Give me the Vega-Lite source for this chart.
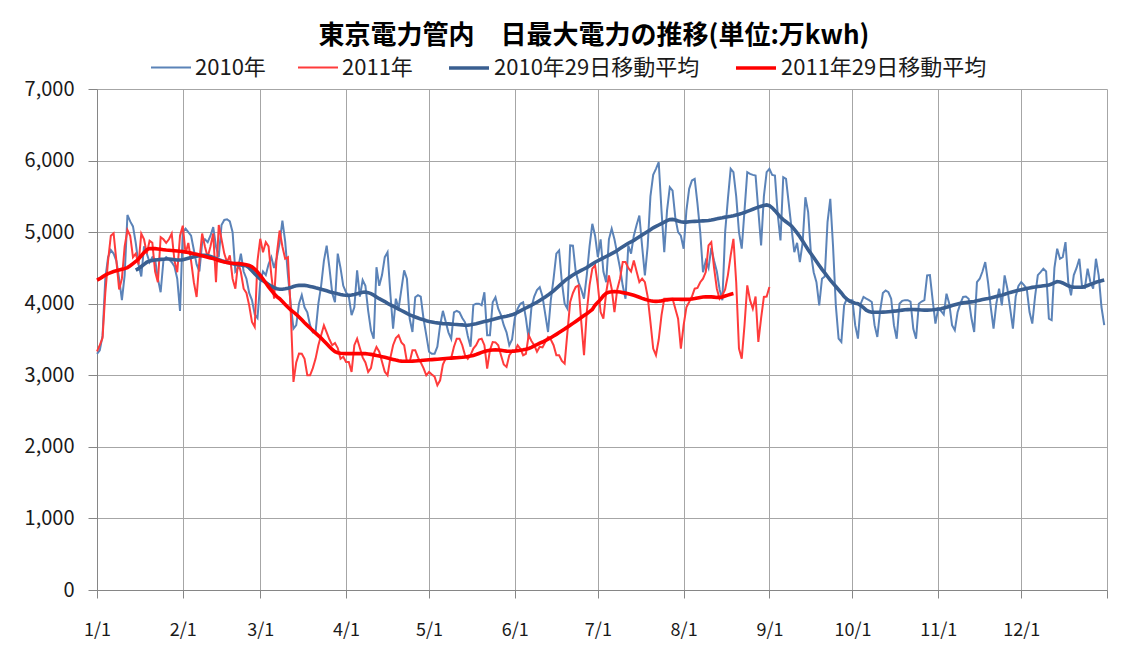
{
"$schema":"https://vega.github.io/schema/vega-lite/v6.json",
"width":1010,"height":501,
"autosize":{"type":"none"},
"padding":{"left":97,"top":89,"right":30,"bottom":61},
"background":"white",
"config":{"font":"Noto Sans CJK JP","view":{"stroke":null}},
"title":{"text":"東京電力管内　日最大電力の推移(単位:万kwh)","anchor":"middle","frame":"group","fontSize":26,"fontWeight":"bold","color":"#000000","offset":-3,"dx":-8},
"data":{"values":[
{"d":1,"a":3300,"b":3335,"e":4330},
{"d":2,"a":3350,"b":3420,"e":4350},
{"d":3,"a":3550,"b":3520,"e":4375},
{"d":4,"a":4350,"b":4150,"e":4400},
{"d":5,"a":4650,"b":4600,"e":4420},
{"d":6,"a":4750,"b":4950,"e":4435},
{"d":7,"a":4700,"b":4985,"e":4450},
{"d":8,"a":4600,"b":4600,"e":4460},
{"d":9,"a":4350,"b":4200,"e":4470},
{"d":10,"a":4050,"b":4350,"e":4480},
{"d":11,"a":4400,"b":4800,"e":4490},
{"d":12,"a":5240,"b":5030,"e":4505},
{"d":13,"a":5150,"b":4950,"e":4530},
{"d":14,"a":5080,"b":4650,"e":4560},
{"d":15,"a":4850,"b":4700,"c":4470,"e":4590},
{"d":16,"a":4550,"b":4550,"c":4490,"e":4625},
{"d":17,"a":4380,"b":4980,"c":4520,"e":4670},
{"d":18,"a":4800,"b":4900,"c":4550,"e":4715},
{"d":19,"a":4700,"b":4700,"c":4580,"e":4755},
{"d":20,"a":4580,"b":4880,"c":4595,"e":4770},
{"d":21,"a":4650,"b":4850,"c":4605,"e":4772},
{"d":22,"a":4620,"b":4450,"c":4610,"e":4770},
{"d":23,"a":4350,"b":4300,"c":4615,"e":4765},
{"d":24,"a":4160,"b":4930,"c":4620,"e":4760},
{"d":25,"a":4600,"b":4900,"c":4622,"e":4755},
{"d":26,"a":4650,"b":4850,"c":4625,"e":4750},
{"d":27,"a":4620,"b":4900,"c":4625,"e":4747},
{"d":28,"a":4580,"b":4980,"c":4620,"e":4744},
{"d":29,"a":4520,"b":4600,"c":4615,"e":4740},
{"d":30,"a":4350,"b":4440,"c":4610,"e":4736},
{"d":31,"a":3900,"b":4950,"c":4610,"e":4732},
{"d":32,"a":5000,"b":5090,"c":4615,"e":4728},
{"d":33,"a":5050,"b":4700,"c":4625,"e":4722},
{"d":34,"a":5000,"b":4850,"c":4635,"e":4715},
{"d":35,"a":4950,"b":4600,"c":4645,"e":4707},
{"d":36,"a":4750,"b":4300,"c":4655,"e":4698},
{"d":37,"a":4550,"b":4094,"c":4665,"e":4690},
{"d":38,"a":4450,"b":4600,"c":4670,"e":4680},
{"d":39,"a":4850,"b":4980,"c":4675,"e":4670},
{"d":40,"a":4900,"b":4800,"c":4675,"e":4660},
{"d":41,"a":4860,"b":4650,"c":4670,"e":4650},
{"d":42,"a":4950,"b":4800,"c":4660,"e":4640},
{"d":43,"a":5070,"b":4980,"c":4645,"e":4630},
{"d":44,"a":4800,"b":4300,"c":4630,"e":4618},
{"d":45,"a":4650,"b":5100,"c":4615,"e":4605},
{"d":46,"a":5100,"b":4900,"c":4600,"e":4593},
{"d":47,"a":5170,"b":4700,"c":4590,"e":4583},
{"d":48,"a":5180,"b":4580,"c":4580,"e":4575},
{"d":49,"a":5150,"b":4675,"c":4570,"e":4570},
{"d":50,"a":5000,"b":4349,"c":4560,"e":4566},
{"d":51,"a":4450,"b":4210,"c":4550,"e":4562},
{"d":52,"a":4500,"b":4582,"c":4545,"e":4560},
{"d":53,"a":4700,"b":4440,"c":4540,"e":4557},
{"d":54,"a":4450,"b":4210,"c":4535,"e":4552},
{"d":55,"a":4350,"b":4150,"c":4530,"e":4545},
{"d":56,"a":4150,"b":3977,"c":4500,"e":4535},
{"d":57,"a":4050,"b":3745,"c":4460,"e":4515},
{"d":58,"a":3850,"b":3675,"c":4420,"e":4485},
{"d":59,"a":3800,"b":4600,"c":4380,"e":4445},
{"d":60,"a":4300,"b":4907,"c":4345,"e":4396},
{"d":61,"a":4450,"b":4720,"c":4320,"e":4345},
{"d":62,"a":4400,"b":4860,"c":4295,"e":4290},
{"d":63,"a":4550,"b":4800,"c":4270,"e":4235},
{"d":64,"a":4650,"b":4400,"c":4245,"e":4185},
{"d":65,"a":4500,"b":4070,"c":4225,"e":4140},
{"d":66,"a":4650,"b":4700,"c":4210,"e":4100},
{"d":67,"a":4850,"b":5023,"c":4203,"e":4070},
{"d":68,"a":5160,"b":4800,"c":4203,"e":4030},
{"d":69,"a":4870,"b":4628,"c":4208,"e":3990},
{"d":70,"a":4400,"b":4650,"c":4215,"e":3950},
{"d":71,"a":4000,"b":3900,"c":4225,"e":3915},
{"d":72,"a":3650,"b":2907,"c":4240,"e":3884},
{"d":73,"a":3700,"b":3180,"c":4250,"e":3850},
{"d":74,"a":4000,"b":3303,"c":4256,"e":3815},
{"d":75,"a":4120,"b":3300,"c":4258,"e":3775},
{"d":76,"a":3950,"b":3230,"c":4256,"e":3735},
{"d":77,"a":3880,"b":3000,"c":4250,"e":3698},
{"d":78,"a":3700,"b":3000,"c":4242,"e":3660},
{"d":79,"a":3600,"b":3100,"c":4233,"e":3625},
{"d":80,"a":3610,"b":3233,"c":4222,"e":3590},
{"d":81,"a":4000,"b":3420,"c":4212,"e":3555},
{"d":82,"a":4250,"b":3560,"c":4202,"e":3520},
{"d":83,"a":4600,"b":3698,"c":4192,"e":3480},
{"d":84,"a":4810,"b":3600,"c":4180,"e":3440},
{"d":85,"a":4500,"b":3500,"c":4168,"e":3400},
{"d":86,"a":4150,"b":3419,"c":4158,"e":3360},
{"d":87,"a":4020,"b":3450,"c":4148,"e":3330},
{"d":88,"a":4700,"b":3380,"c":4138,"e":3315},
{"d":89,"a":4500,"b":3230,"c":4130,"e":3308},
{"d":90,"a":4250,"b":3260,"c":4123,"e":3305},
{"d":91,"a":4160,"b":3187,"c":4118,"e":3303},
{"d":92,"a":4100,"b":3187,"c":4117,"e":3303},
{"d":93,"a":3840,"b":3047,"c":4122,"e":3303},
{"d":94,"a":3950,"b":3420,"c":4130,"e":3303},
{"d":95,"a":4465,"b":3512,"c":4140,"e":3303},
{"d":96,"a":4100,"b":3380,"c":4150,"e":3303},
{"d":97,"a":4330,"b":3250,"c":4160,"e":3303},
{"d":98,"a":4250,"b":3180,"c":4163,"e":3302},
{"d":99,"a":3900,"b":3047,"c":4155,"e":3298},
{"d":100,"a":3630,"b":3100,"c":4140,"e":3292},
{"d":101,"a":3510,"b":3300,"c":4120,"e":3285},
{"d":102,"a":4510,"b":3396,"c":4095,"e":3276},
{"d":103,"a":4250,"b":3330,"c":4070,"e":3268},
{"d":104,"a":4400,"b":3190,"c":4050,"e":3260},
{"d":105,"a":4650,"b":3050,"c":4030,"e":3252},
{"d":106,"a":4720,"b":3000,"c":4005,"e":3242},
{"d":107,"a":4150,"b":3240,"c":3985,"e":3232},
{"d":108,"a":3650,"b":3420,"c":3965,"e":3222},
{"d":109,"a":4070,"b":3520,"c":3945,"e":3212},
{"d":110,"a":3930,"b":3560,"c":3925,"e":3204},
{"d":111,"a":4200,"b":3460,"c":3905,"e":3198},
{"d":112,"a":4465,"b":3420,"c":3885,"e":3196},
{"d":113,"a":4350,"b":3190,"c":3865,"e":3196},
{"d":114,"a":3790,"b":3187,"c":3845,"e":3197},
{"d":115,"a":3605,"b":3350,"c":3830,"e":3198},
{"d":116,"a":4090,"b":3350,"c":3815,"e":3200},
{"d":117,"a":4120,"b":3250,"c":3800,"e":3203},
{"d":118,"a":4100,"b":3180,"c":3785,"e":3206},
{"d":119,"a":3790,"b":3100,"c":3775,"e":3210},
{"d":120,"a":3560,"b":3000,"c":3762,"e":3213},
{"d":121,"a":3330,"b":3047,"c":3752,"e":3216},
{"d":122,"a":3300,"b":3010,"c":3745,"e":3219},
{"d":123,"a":3300,"b":2980,"c":3738,"e":3222},
{"d":124,"a":3400,"b":2861,"c":3732,"e":3225},
{"d":125,"a":3700,"b":2930,"c":3727,"e":3228},
{"d":126,"a":3900,"b":3150,"c":3722,"e":3231},
{"d":127,"a":3750,"b":3233,"c":3720,"e":3234},
{"d":128,"a":3600,"b":3233,"c":3718,"e":3237},
{"d":129,"a":3510,"b":3240,"c":3715,"e":3240},
{"d":130,"a":3880,"b":3400,"c":3712,"e":3243},
{"d":131,"a":3900,"b":3512,"c":3710,"e":3246},
{"d":132,"a":3880,"b":3512,"c":3707,"e":3249},
{"d":133,"a":3800,"b":3420,"c":3704,"e":3252},
{"d":134,"a":3740,"b":3280,"c":3700,"e":3256},
{"d":135,"a":3550,"b":3230,"c":3700,"e":3262},
{"d":136,"a":3400,"b":3280,"c":3705,"e":3270},
{"d":137,"a":3980,"b":3373,"c":3712,"e":3278},
{"d":138,"a":4000,"b":3420,"c":3720,"e":3290},
{"d":139,"a":4000,"b":3500,"c":3730,"e":3305},
{"d":140,"a":3980,"b":3512,"c":3740,"e":3320},
{"d":141,"a":4160,"b":3420,"c":3750,"e":3333},
{"d":142,"a":3560,"b":3094,"c":3760,"e":3343},
{"d":143,"a":3560,"b":3350,"c":3770,"e":3350},
{"d":144,"a":4020,"b":3465,"c":3780,"e":3354},
{"d":145,"a":4090,"b":3460,"c":3790,"e":3355},
{"d":146,"a":3930,"b":3420,"c":3800,"e":3354},
{"d":147,"a":3840,"b":3280,"c":3810,"e":3350},
{"d":148,"a":3700,"b":3150,"c":3818,"e":3344},
{"d":149,"a":3600,"b":3117,"c":3826,"e":3338},
{"d":150,"a":3420,"b":3280,"c":3835,"e":3336},
{"d":151,"a":3500,"b":3330,"c":3845,"e":3337},
{"d":152,"a":3800,"b":3326,"c":3860,"e":3340},
{"d":153,"a":3930,"b":3420,"c":3880,"e":3345},
{"d":154,"a":4000,"b":3370,"c":3900,"e":3350},
{"d":155,"a":4020,"b":3280,"c":3920,"e":3357},
{"d":156,"a":3800,"b":3300,"c":3940,"e":3365},
{"d":157,"a":3510,"b":3560,"c":3960,"e":3375},
{"d":158,"a":3950,"b":3480,"c":3980,"e":3390},
{"d":159,"a":4100,"b":3420,"c":4000,"e":3410},
{"d":160,"a":4190,"b":3330,"c":4020,"e":3430},
{"d":161,"a":4230,"b":3400,"c":4045,"e":3448},
{"d":162,"a":4100,"b":3390,"c":4070,"e":3465},
{"d":163,"a":3850,"b":3466,"c":4095,"e":3485},
{"d":164,"a":3605,"b":3535,"c":4120,"e":3505},
{"d":165,"a":4050,"b":3500,"c":4150,"e":3525},
{"d":166,"a":4350,"b":3420,"c":4180,"e":3548},
{"d":167,"a":4700,"b":3280,"c":4215,"e":3572},
{"d":168,"a":4745,"b":3280,"c":4250,"e":3597},
{"d":169,"a":4300,"b":3200,"c":4285,"e":3622},
{"d":170,"a":4000,"b":3163,"c":4320,"e":3648},
{"d":171,"a":3930,"b":3600,"c":4350,"e":3673},
{"d":172,"a":4814,"b":4024,"c":4375,"e":3698},
{"d":173,"a":4810,"b":4150,"c":4400,"e":3725},
{"d":174,"a":4450,"b":4233,"c":4425,"e":3752},
{"d":175,"a":4300,"b":4256,"c":4445,"e":3780},
{"d":176,"a":4200,"b":3750,"c":4465,"e":3808},
{"d":177,"a":4070,"b":3280,"c":4485,"e":3835},
{"d":178,"a":4400,"b":3884,"c":4505,"e":3861},
{"d":179,"a":4800,"b":4256,"c":4530,"e":3890},
{"d":180,"a":5116,"b":4490,"c":4555,"e":3920},
{"d":181,"a":4950,"b":4535,"c":4580,"e":3980},
{"d":182,"a":4650,"b":4256,"c":4600,"e":4020},
{"d":183,"a":4900,"b":3884,"c":4620,"e":4060},
{"d":184,"a":4450,"b":3791,"c":4640,"e":4110},
{"d":185,"a":4300,"b":4150,"c":4660,"e":4145},
{"d":186,"a":4900,"b":4396,"c":4680,"e":4162},
{"d":187,"a":5047,"b":4210,"c":4700,"e":4168},
{"d":188,"a":4900,"b":3884,"c":4720,"e":4170},
{"d":189,"a":4700,"b":4200,"c":4745,"e":4168},
{"d":190,"a":4500,"b":4350,"c":4770,"e":4163},
{"d":191,"a":4250,"b":4582,"c":4795,"e":4155},
{"d":192,"a":4070,"b":4582,"c":4820,"e":4148},
{"d":193,"a":4814,"b":4500,"c":4845,"e":4140},
{"d":194,"a":4700,"b":4450,"c":4865,"e":4130},
{"d":195,"a":4950,"b":4605,"c":4885,"e":4118},
{"d":196,"a":5100,"b":4450,"c":4910,"e":4105},
{"d":197,"a":5233,"b":4303,"c":4935,"e":4090},
{"d":198,"a":4800,"b":4350,"c":4960,"e":4075},
{"d":199,"a":4396,"b":4300,"c":4985,"e":4062},
{"d":200,"a":4800,"b":4100,"c":5010,"e":4050},
{"d":201,"a":5500,"b":3745,"c":5035,"e":4040},
{"d":202,"a":5800,"b":3373,"c":5060,"e":4035},
{"d":203,"a":5884,"b":3280,"c":5080,"e":4033},
{"d":204,"a":5977,"b":3500,"c":5100,"e":4035},
{"d":205,"a":5300,"b":3838,"c":5120,"e":4040},
{"d":206,"a":4721,"b":4070,"c":5140,"e":4047},
{"d":207,"a":5300,"b":4070,"c":5160,"e":4054},
{"d":208,"a":5628,"b":4070,"c":5175,"e":4060},
{"d":209,"a":5580,"b":4070,"c":5178,"e":4062},
{"d":210,"a":5200,"b":3930,"c":5170,"e":4062},
{"d":211,"a":5000,"b":3791,"c":5155,"e":4062},
{"d":212,"a":4950,"b":3373,"c":5145,"e":4061},
{"d":213,"a":4768,"b":3700,"c":5140,"e":4060},
{"d":214,"a":5300,"b":3950,"c":5140,"e":4060},
{"d":215,"a":5605,"b":4024,"c":5145,"e":4062},
{"d":216,"a":5721,"b":4100,"c":5148,"e":4066},
{"d":217,"a":5744,"b":4210,"c":5150,"e":4072},
{"d":218,"a":5400,"b":4220,"c":5152,"e":4080},
{"d":219,"a":5000,"b":4300,"c":5155,"e":4088},
{"d":220,"a":4440,"b":4350,"c":5158,"e":4094},
{"d":221,"a":4600,"b":4442,"c":5160,"e":4096},
{"d":222,"a":4500,"b":4814,"c":5163,"e":4096},
{"d":223,"a":4780,"b":4860,"c":5170,"e":4096},
{"d":224,"a":4600,"b":4500,"c":5178,"e":4092},
{"d":225,"a":4450,"b":4210,"c":5186,"e":4088},
{"d":226,"a":4200,"b":4070,"c":5195,"e":4088},
{"d":227,"a":4050,"b":4120,"c":5202,"e":4095},
{"d":228,"a":5000,"b":4200,"c":5210,"e":4108},
{"d":229,"a":5465,"b":4400,"c":5215,"e":4120},
{"d":230,"a":5884,"b":4675,"c":5222,"e":4132},
{"d":231,"a":5837,"b":4907,"c":5230,"e":4142},
{"d":232,"a":5500,"b":4300,"c":5240},
{"d":233,"a":5000,"b":3373,"c":5250},
{"d":234,"a":4770,"b":3233,"c":5262},
{"d":235,"a":5300,"b":3700,"c":5275},
{"d":236,"a":5837,"b":4256,"c":5290},
{"d":237,"a":5814,"b":4050,"c":5305},
{"d":238,"a":5800,"b":3930,"c":5320},
{"d":239,"a":5790,"b":4100,"c":5335},
{"d":240,"a":5300,"b":3465,"c":5350},
{"d":241,"a":4814,"b":3800,"c":5362},
{"d":242,"a":5500,"b":4094,"c":5372},
{"d":243,"a":5837,"b":4100,"c":5380},
{"d":244,"a":5884,"b":4233,"c":5370},
{"d":245,"a":5800,"c":5340},
{"d":246,"a":5790,"c":5300},
{"d":247,"a":5250,"c":5255},
{"d":248,"a":4884,"c":5210},
{"d":249,"a":5767,"c":5175},
{"d":250,"a":5744,"c":5145},
{"d":251,"a":5400,"c":5115},
{"d":252,"a":5050,"c":5085},
{"d":253,"a":4721,"c":5040},
{"d":254,"a":4850,"c":4990},
{"d":255,"a":4582,"c":4935},
{"d":256,"a":4850,"c":4875},
{"d":257,"a":5488,"c":4815},
{"d":258,"a":5280,"c":4755},
{"d":259,"a":4700,"c":4700},
{"d":260,"a":4440,"c":4645},
{"d":261,"a":4300,"c":4590},
{"d":262,"a":3977,"c":4535},
{"d":263,"a":4350,"c":4480},
{"d":264,"a":4380,"c":4430},
{"d":265,"a":5140,"c":4380},
{"d":266,"a":5465,"c":4330},
{"d":267,"a":4800,"c":4285},
{"d":268,"a":3977,"c":4240},
{"d":269,"a":3512,"c":4195},
{"d":270,"a":3465,"c":4150},
{"d":271,"a":3977,"c":4100},
{"d":272,"a":4070,"c":4065},
{"d":273,"a":4050,"c":4035},
{"d":274,"a":4050,"c":4020},
{"d":275,"a":3700,"c":4008},
{"d":276,"a":3512,"c":4000},
{"d":277,"a":4000,"c":3975},
{"d":278,"a":4094,"c":3945},
{"d":279,"a":4070,"c":3910},
{"d":280,"a":4050,"c":3890},
{"d":281,"a":4024,"c":3882},
{"d":282,"a":3700,"c":3880},
{"d":283,"a":3535,"c":3880},
{"d":284,"a":3900,"c":3880},
{"d":285,"a":4150,"c":3882},
{"d":286,"a":4186,"c":3884},
{"d":287,"a":4160,"c":3888},
{"d":288,"a":4070,"c":3892},
{"d":289,"a":3700,"c":3896},
{"d":290,"a":3510,"c":3900},
{"d":291,"a":4000,"c":3905},
{"d":292,"a":4040,"c":3910},
{"d":293,"a":4050,"c":3915},
{"d":294,"a":4050,"c":3918},
{"d":295,"a":4030,"c":3920},
{"d":296,"a":3650,"c":3920},
{"d":297,"a":3510,"c":3918},
{"d":298,"a":4000,"c":3915},
{"d":299,"a":4030,"c":3912},
{"d":300,"a":4050,"c":3910},
{"d":301,"a":4396,"c":3910},
{"d":302,"a":4400,"c":3912},
{"d":303,"a":4050,"c":3915},
{"d":304,"a":3721,"c":3920},
{"d":305,"a":3930,"c":3925},
{"d":306,"a":3900,"c":3930},
{"d":307,"a":3850,"c":3940},
{"d":308,"a":4140,"c":3950},
{"d":309,"a":4000,"c":3962},
{"d":310,"a":3700,"c":3975},
{"d":311,"a":3629,"c":3985},
{"d":312,"a":3880,"c":3995},
{"d":313,"a":4000,"c":4005},
{"d":314,"a":4094,"c":4012},
{"d":315,"a":4100,"c":4018},
{"d":316,"a":4070,"c":4022},
{"d":317,"a":3800,"c":4026},
{"d":318,"a":3605,"c":4030},
{"d":319,"a":4300,"c":4040},
{"d":320,"a":4349,"c":4050},
{"d":321,"a":4450,"c":4058},
{"d":322,"a":4582,"c":4065},
{"d":323,"a":4300,"c":4072},
{"d":324,"a":3950,"c":4080},
{"d":325,"a":3652,"c":4090},
{"d":326,"a":4000,"c":4100},
{"d":327,"a":4210,"c":4110},
{"d":328,"a":3977,"c":4120},
{"d":329,"a":4396,"c":4132},
{"d":330,"a":4210,"c":4145},
{"d":331,"a":3930,"c":4158},
{"d":332,"a":3652,"c":4168},
{"d":333,"a":4100,"c":4178},
{"d":334,"a":4250,"c":4188},
{"d":335,"a":4303,"c":4196},
{"d":336,"a":4260,"c":4204},
{"d":337,"a":4210,"c":4212},
{"d":338,"a":3884,"c":4220},
{"d":339,"a":3722,"c":4228},
{"d":340,"a":4100,"c":4234},
{"d":341,"a":4400,"c":4240},
{"d":342,"a":4442,"c":4245},
{"d":343,"a":4490,"c":4250},
{"d":344,"a":4450,"c":4255},
{"d":345,"a":3791,"c":4260},
{"d":346,"a":3770,"c":4275},
{"d":347,"a":4500,"c":4295},
{"d":348,"a":4768,"c":4310},
{"d":349,"a":4628,"c":4305},
{"d":350,"a":4650,"c":4290},
{"d":351,"a":4860,"c":4270},
{"d":352,"a":4300,"c":4250},
{"d":353,"a":4117,"c":4238},
{"d":354,"a":4400,"c":4232},
{"d":355,"a":4500,"c":4230},
{"d":356,"a":4628,"c":4230},
{"d":357,"a":4230,"c":4232},
{"d":358,"a":4220,"c":4240},
{"d":359,"a":4489,"c":4255},
{"d":360,"a":4303,"c":4270},
{"d":361,"a":4210,"c":4285},
{"d":362,"a":4628,"c":4300},
{"d":363,"a":4396,"c":4312},
{"d":364,"a":3954,"c":4322},
{"d":365,"a":3700,"c":4332}
]},
"transform":[{"fold":["a","b","c","e"],"as":["k","v"]},{"filter":"isValid(datum.v)"}],
"encoding":{
"x":{"field":"d","type":"quantitative","scale":{"domain":[1,366],"nice":false,"zero":false},
 "axis":{"title":null,"values":[1,32,60,91,121,152,182,213,244,274,305,335,366],
  "labelExpr":"datum.value > 365 ? '' : timeFormat(datetime(2010,0,datum.value),'%-m/%-d')",
  "grid":true,"gridColor":"#A6A6A6","domainColor":"#868686","tickColor":"#868686","tickSize":8,
  "labelFontSize":18,"labelColor":"#1a1a1a","labelPadding":23,"labelFlush":false,"labelOverlap":false,"labelBound":false}},
"y":{"field":"v","type":"quantitative","scale":{"domain":[0,7000],"nice":false},
 "axis":{"title":null,"values":[0,1000,2000,3000,4000,5000,6000,7000],"format":",.0f",
  "grid":true,"gridColor":"#A6A6A6","domainColor":"#868686","tickColor":"#868686","tickSize":9,
  "labelFontSize":20,"labelColor":"#1a1a1a","labelPadding":14,"labelFlush":false}},
"color":{"field":"k","type":"nominal","scale":{"domain":["a","b","c","e"],"range":["#5B83B8","#FF3B3B","#3A5F91","#FF0000"]},
 "legend":{"title":null,"orient":"none","legendX":53,"legendY":-43,"direction":"horizontal","symbolType":"stroke","symbolSize":1600,"labelFontSize":22,"labelLimit":600,"labelColor":"#1a1a1a","labelOffset":3,"columnPadding":28,
  "labelExpr":"datum.label==='a'?'2010年':datum.label==='b'?'2011年':datum.label==='c'?'2010年29日移動平均':'2011年29日移動平均'"}},
"strokeWidth":{"field":"k","type":"nominal","scale":{"type":"ordinal","domain":["a","b","c","e"],"range":[2,2,3.6,3.6]},
 "legend":{"title":null,"orient":"none","legendX":53,"legendY":-43,"direction":"horizontal","symbolType":"stroke","symbolSize":1600,"labelFontSize":22,"labelLimit":600,"labelColor":"#1a1a1a","labelOffset":3,"columnPadding":28,
  "labelExpr":"datum.label==='a'?'2010年':datum.label==='b'?'2011年':datum.label==='c'?'2010年29日移動平均':'2011年29日移動平均'"}}
},
"layer":[
{"transform":[{"filter":"datum.k==='a'"}],"mark":{"type":"line"}},
{"transform":[{"filter":"datum.k==='b'"}],"mark":{"type":"line"}},
{"transform":[{"filter":"datum.k==='c'"}],"mark":{"type":"line"}},
{"transform":[{"filter":"datum.k==='e'"}],"mark":{"type":"line"}}
]
}
